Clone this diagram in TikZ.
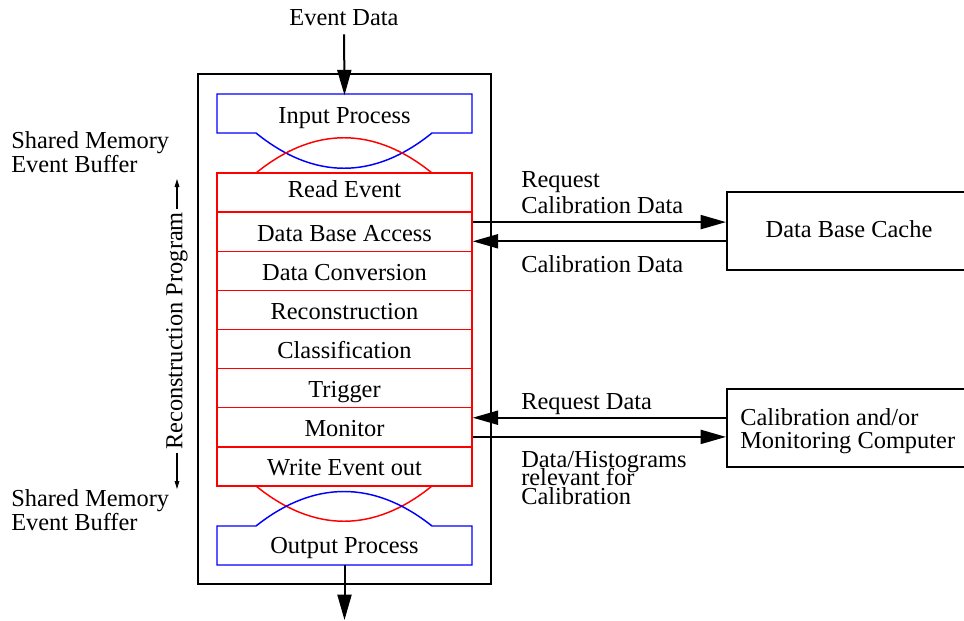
\documentclass[tikz,border=0pt]{standalone}
\usepackage{fontspec}
\setmainfont{Liberation Serif}
\usetikzlibrary{arrows.meta}
% tightly set lines for the histogram label
\newcommand\tightlines{\fontsize{18.3pt}{13.9pt}\selectfont\lineskiplimit=-20pt\relax\lineskip=0pt\relax}
\begin{document}
\begin{tikzpicture}[x=0.75pt,y=-0.75pt,
  every node/.style={font=\fontsize{18.3pt}{18pt}\selectfont, inner sep=0pt},
  frame/.style={draw, line width=1.7pt},
  stage/.style={draw=red, line width=1.1pt, minimum width=191.25pt,
                minimum height=29.34pt, text height=14pt, text depth=0pt},
  procbox/.style={minimum width=191.25pt, minimum height=29.25pt,
                  text height=12pt, text depth=0pt},
  redline/.style={draw=red, line width=1.1pt},
  blueline/.style={draw=blue, line width=1.1pt},
  extbox/.style={draw, line width=1.5pt, minimum width=193.5pt, minimum height=58.5pt},
  flow/.style={line width=1.5pt, -{Triangle[length=19pt,width=10.5pt]}},
  span/.style={line width=0.8pt, -{Triangle[length=6pt,width=3.5pt]}},
  lbl/.style={align=left}
]
\useasboundingbox (0,0) rectangle (964,621);

% outer frame of the reconstruction program
\node[frame, minimum width=219.75pt, minimum height=382.5pt] (prog) at (344.5,329) {};

% input process (blue) with its shared-memory interface
\node[procbox] (inp) at (344.5,115) {Input Process};
\draw[blueline] (217,133) -- (217,94) -- (472,94) -- (472,133) -- (432,133)
  .. controls (374,180) and (314,180) .. (256,133) -- cycle;

% red interface of the reconstruction stack
\draw[redline] (217,173) -- (256,173) .. controls (314,126) and (374,126) .. (432,173) -- (472,173);
\draw[redline] (217,486) -- (256,486) .. controls (314,533) and (374,533) .. (432,486) -- (472,486);

% reconstruction stages
\node[stage, text height=7.5pt] (s1) at (344.5,192.56) {Read Event};
\node[stage] (s2) at (344.5,231.69) {Data Base Access};
\node[stage] (s3) at (344.5,270.81) {Data Conversion};
\node[stage] (s4) at (344.5,309.94) {Reconstruction};
\node[stage] (s5) at (344.5,349.06) {Classification};
\node[stage] (s6) at (344.5,388.19) {Trigger};
\node[stage] (s7) at (344.5,427.31) {Monitor};
\node[stage] (s8) at (344.5,466.44) {Write Event out};

% output process (blue)
\node[procbox] (outp) at (344.5,545) {Output Process};
\draw[blueline] (217,526) -- (256,526) .. controls (314,480) and (374,480) .. (432,526)
  -- (472,526) -- (472,565) -- (217,565) -- cycle;

% event data in and out
\node (ev) at (344,18) {Event Data};
\coordinate (evout) at (344.5,620);
\draw[flow, shorten <=6pt] (ev.south) -- (inp.north);
\draw[flow] (outp.south) -- (evout);

% shared memory labels
\node[lbl, anchor=north west] (smtop) at (11,131) {Shared Memory\\Event Buffer};
\node[lbl, anchor=north west] (smbot) at (11,489) {Shared Memory\\Event Buffer};

% extent of the reconstruction program
\node[rotate=90, inner xsep=2pt] (rp) at (177,331) {Reconstruction Program};
\coordinate (rptop) at (177,179);
\coordinate (rpbot) at (177,489);
\draw[span] (rp.east) -- (rptop);
\draw[span] (rp.west) -- (rpbot);

% data base cache (box runs past the right margin)
\node[extbox] (cache) at (856,231) {};
\node (cachetxt) at (849,229) {Data Base Cache};
\draw[flow] ([yshift=7.2pt]s2.east) -- ([yshift=7.2pt]s2.east -| cache.west);
\draw[flow] ([yshift=-7.2pt]s2.east -| cache.west) -- ([yshift=-7.2pt]s2.east);
\node[lbl, anchor=north west, font=\fontsize{18.3pt}{19.5pt}\selectfont] (reqcal) at (521,171)
  {Request\\Calibration Data};
\node[anchor=base west] (caldata) at (521,272) {Calibration Data};

% calibration / monitoring computer
\node[extbox] (calib) at (856,428) {};
\node[lbl, anchor=north west, font=\fontsize{18.3pt}{17.25pt}\selectfont] (calibtxt) at (740,408)
  {Calibration and/or\\Monitoring Computer};
\draw[flow] ([yshift=7.2pt]s7.east -| calib.west) -- ([yshift=7.2pt]s7.east);
\draw[flow] ([yshift=-7.2pt]s7.east) -- ([yshift=-7.2pt]s7.east -| calib.west);
\node[anchor=base west] (reqdata) at (521,409) {Request Data};
\node[lbl, anchor=north west, font=\tightlines] (histo) at (521,451)
  {Data/Histograms\\relevant for\\Calibration};
\end{tikzpicture}
\end{document}
